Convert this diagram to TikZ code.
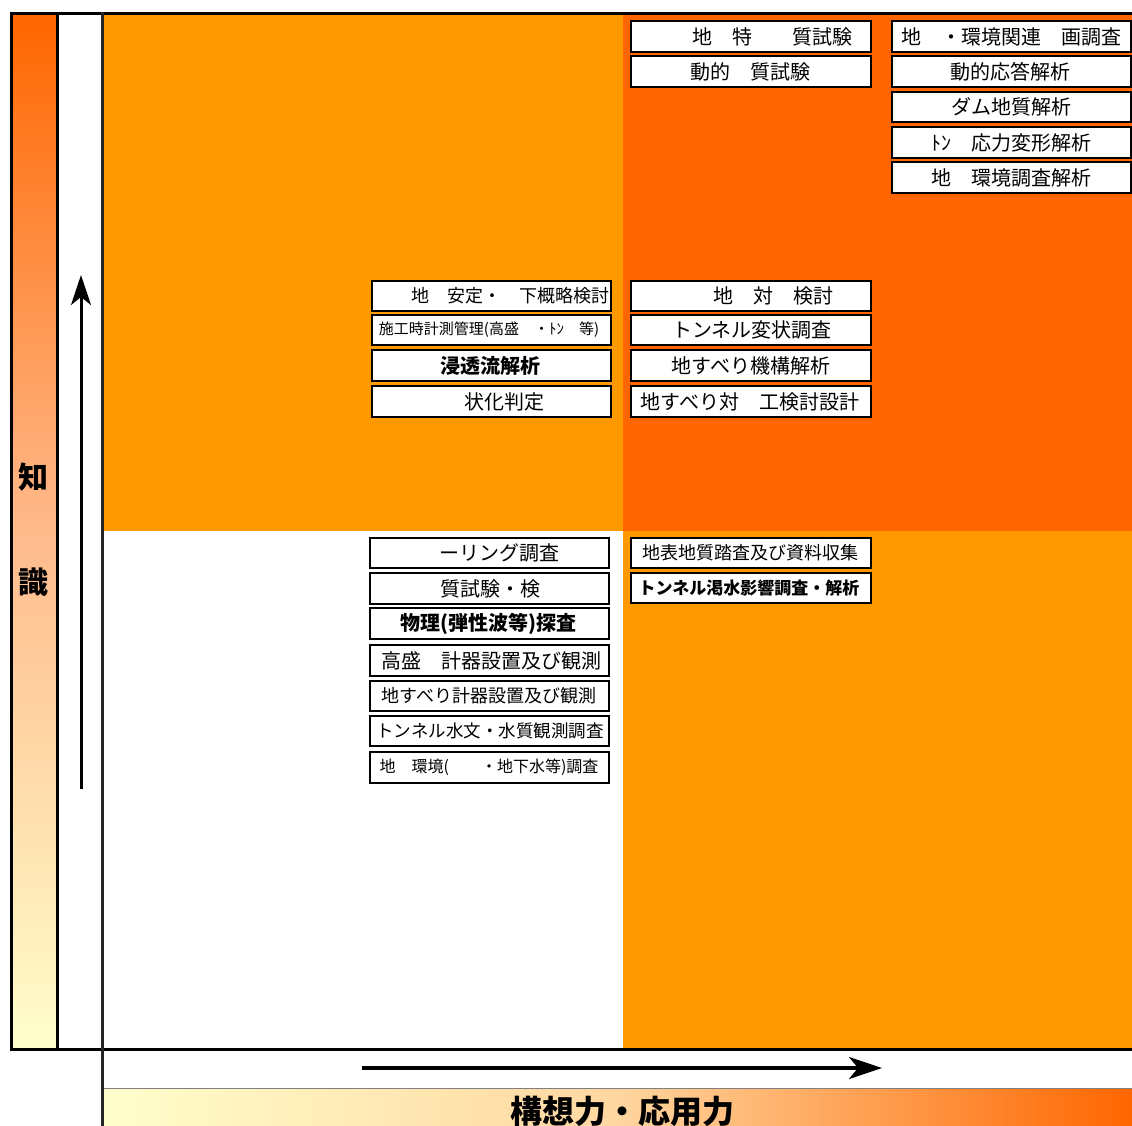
\documentclass[tikz,border=0pt]{standalone}
\usepackage{fontspec}
\newfontfamily\jp{Noto Sans CJK JP}
\usetikzlibrary{arrows.meta}
\definecolor{ora}{RGB}{255,153,0}
\definecolor{dora}{RGB}{255,102,0}
\definecolor{pale}{RGB}{255,255,204}
\definecolor{midc}{RGB}{255,186,140}
\definecolor{midh}{RGB}{255,214,160}
\newcommand\qbox[9][]{%
  \node[boxs,#1,minimum width={(#5)-(#3)},minimum height={(#6)-(#4)}] (#2) at ({((#3)+(#5))/2},{((#4)+(#6))/2}) {};
  \node[tx,#8] (#2t) at (#7,{((#4)+(#6))/2}) {#9};}
\begin{document}
\begin{tikzpicture}[x=1pt,y=-1pt,
  boxs/.style={draw=black,fill=white,line width=1.8pt,inner sep=0pt,outer sep=0pt},
  thickb/.style={line width=2.6pt},
  tx/.style={inner sep=0pt,text=black},
  s20/.style={font=\jp\fontsize{20}{24}\selectfont},
  s19/.style={font=\jp\fontsize{18.5}{22}\selectfont},
  s18/.style={font=\jp\fontsize{18}{22}\selectfont},
  s17/.style={font=\jp\fontsize{17.5}{21}\selectfont},
  s16/.style={font=\jp\fontsize{16}{20}\selectfont},
  s15/.style={font=\jp\fontsize{15}{18}\selectfont},
  b20/.style={font=\jp\bfseries\fontsize{20}{24}\selectfont},
  b17/.style={font=\jp\bfseries\fontsize{17}{21}\selectfont},
  bigarrow/.style={line width=3.5pt,-{Stealth[length=33pt,width=22pt,inset=9pt]}},
  axis/.style={line width=3pt,black},
]
\useasboundingbox (0,0) rectangle (1132,1126);
\fill[white] (0,0) rectangle (1132,1126);
% quadrants
\fill[ora] (103,13) rectangle (623,531);
\fill[dora] (623,13) rectangle (1132,531);
\fill[ora] (623,531) rectangle (1132,1049);
% left gradient bar
\shade[top color=dora,bottom color=pale,middle color=midc] (11.5,13.5) rectangle (57,1049);
% bottom gradient bar
\shade[left color=pale,right color=dora,middle color=midh] (103,1088) rectangle (1132,1126);
\draw[line width=0.6pt,gray] (103,1088) -- (1132,1088);
% frame lines
\draw[axis] (10,13.5) -- (1132,13.5);
\draw[axis] (10,1049) -- (1132,1049);
\draw[axis] (11.5,12) -- (11.5,1050.5);
\draw[axis] (57,12) -- (57,1050.5);
\draw[line width=2.2pt,black!85] (102.5,12) -- (102.5,1126);
% arrows
\coordinate (v0) at (81,789);
\coordinate (v1) at (81,275);
\draw[line width=3pt,-{Stealth[length=30pt,width=20pt,inset=8pt]}] (v0) -- (v1);
\coordinate (h0) at (362,1068);
\coordinate (h1) at (882,1068);
\draw[bigarrow] (h0) -- (h1);
% axis labels
\node[inner sep=0pt,font=\jp\bfseries\fontsize{30}{34}\selectfont] (k1) at (33,477) {知};
\node[inner sep=0pt,font=\jp\bfseries\fontsize{30}{34}\selectfont] (k2) at (33,582) {識};
\node[inner sep=0pt,font=\jp\bfseries\fontsize{32}{36}\selectfont] (ko) at (622,1111) {構想力・応用力};
% top-right boxes
\qbox{a1}{631}{21}{871}{52}{772}{s20}{地　特　　質試験}
\qbox{a2}{631}{56}{871}{87}{750}{s20}{動的　質試験}
\qbox{c1}{892}{21}{1131}{52}{1011}{s20}{地　・環境関連　画調査}
\qbox{c2}{892}{56}{1131}{87}{1010}{s20}{動的応答解析}
\qbox{c3}{892}{92}{1131}{122}{1011}{s20}{ダム地質解析}
\qbox{c4}{892}{127}{1131}{158}{1011}{s20}{ﾄﾝ　応力変形解析}
\qbox{c5}{892}{162}{1131}{193}{1011}{s20}{地　環境調査解析}
% middle left
\qbox{m1}{372}{281}{611}{311}{510}{s18}{地　安定・　下概略検討}
\qbox{m2}{372}{315}{611}{345}{489}{s15}{施工時計測管理(高盛　・ﾄﾝ　等)}
\qbox[thickb]{m3}{372}{350}{611}{381}{490}{b20}{浸透流解析}
\qbox{m4}{372}{386}{611}{417}{504}{s20}{状化判定}
% middle right
\qbox{n1}{631}{281}{871}{311}{773}{s20}{地　対　検討}
\qbox{n2}{631}{315}{871}{345}{752}{s20}{トンネル変状調査}
\qbox{n3}{631}{350}{871}{381}{751}{s20}{地すべり機構解析}
\qbox{n4}{631}{386}{871}{417}{750}{s20}{地すべり対　工検討設計}
% bottom left
\qbox{b1}{370}{538}{609}{568}{499}{s20}{ーリング調査}
\qbox{b2}{370}{573}{609}{604}{490}{s20}{質試験・検}
\qbox[thickb]{b3}{370}{608}{609}{639}{488}{b20}{物理(弾性波等)探査}
\qbox{b4}{370}{645}{609}{676}{491}{s20}{高盛　計器設置及び観測}
\qbox{b5}{370}{681}{609}{711}{489}{s18}{地すべり計器設置及び観測}
\qbox{b6}{370}{716}{609}{746}{490}{s17}{トンネル水文・水質観測調査}
\qbox{b7}{370}{752}{609}{783}{489}{s16}{地　環境(　　・地下水等)調査}
% bottom right
\qbox{r1}{631}{538}{871}{568}{750}{s18}{地表地質踏査及び資料収集}
\qbox[thickb]{r2}{631}{573}{871}{603}{749}{b17}{トンネル渇水影響調査・解析}
\end{tikzpicture}
\end{document}
